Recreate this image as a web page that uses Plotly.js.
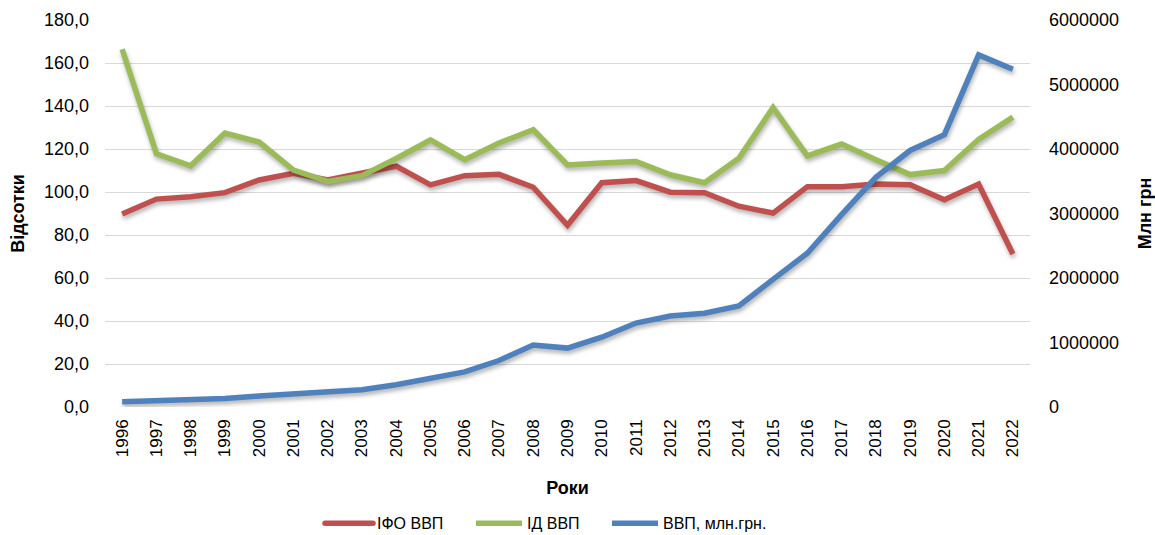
<!DOCTYPE html>
<html>
<head>
<meta charset="utf-8">
<script src="https://cdn.plot.ly/plotly-3.0.1.min.js"></script>
<style>
html,body{margin:0;padding:0;background:#fff;}
#chart{width:1155px;height:535px;}
#chart .scatterlayer .trace path.js-line{filter: drop-shadow(1px 3px 2px rgba(0,0,0,0.30));}
</style>
</head>
<body>
<div id="chart"></div>
<script>
const years = ['1996','1997','1998','1999','2000','2001','2002','2003','2004','2005','2006','2007','2008','2009','2010','2011','2012','2013','2014','2015','2016','2017','2018','2019','2020','2021','2022'];
const ifoGdp = [89.8,96.7,97.8,99.7,105.6,108.7,105.6,109.0,112.0,103.3,107.6,108.2,102.2,84.5,104.3,105.3,99.9,99.7,93.4,90.2,102.5,102.5,103.7,103.4,96.4,103.7,71.2];
const idGdp = [166.4,117.8,112.2,127.4,123.2,110.2,104.9,107.6,115.6,124.2,115.0,122.8,129.0,112.6,113.5,114.2,108.0,104.3,115.7,139.3,116.8,122.3,115.0,108.1,110.0,124.5,134.8];
const gdp = [81519,93365,102593,130442,170070,204190,225810,267344,345113,441452,544153,720731,960000,913345,1082569,1302079,1411238,1454931,1566728,1979458,2383182,2982920,3560596,3977198,4222026,5459574,5235000];

const font = 'Liberation Sans, Arial, sans-serif';
const traces = [
  {x: years, y: ifoGdp, name: 'ІФО ВВП', type: 'scatter', mode: 'lines',
   line: {color: '#C0504D', width: 5.5}, yaxis: 'y', legend: 'legend'},
  {x: years, y: idGdp, name: 'ІД ВВП', type: 'scatter', mode: 'lines',
   line: {color: '#9BBB59', width: 5.5}, yaxis: 'y', legend: 'legend2'},
  {x: years, y: gdp, name: 'ВВП, млн.грн.', type: 'scatter', mode: 'lines',
   line: {color: '#4F81BD', width: 5.5}, yaxis: 'y2', legend: 'legend3'}
];

function legendAt(px) {
  return {orientation: 'h', xref: 'container', yref: 'container', x: px / 1155, xanchor: 'left',
          y: 0.022, yanchor: 'middle', font: {family: font, size: 16, color: '#000'},
          itemwidth: 46, bgcolor: 'rgba(0,0,0,0)'};
}

const layout = {
  width: 1155, height: 535,
  margin: {l: 105, r: 125, t: 20, b: 128},
  paper_bgcolor: '#fff', plot_bgcolor: '#fff',
  separators: ', ',
  font: {family: font, size: 17, color: '#000'},
  showlegend: true,
  legend: legendAt(321),
  legend2: legendAt(471),
  legend3: legendAt(607),
  xaxis: {type: 'category', range: [-0.5, 26.5], tickangle: -90, ticks: '', showgrid: false,
          showline: false, zeroline: false, automargin: false, ticklabelstandoff: 8,
          tickfont: {family: font, size: 17},
          title: {text: '<b>Роки</b>', font: {family: font, size: 18}, standoff: 25}},
  yaxis: {range: [0, 180], dtick: 20, tickformat: '.1f', showgrid: true, gridcolor: '#D9D9D9',
          gridwidth: 1, zeroline: false, showline: false, ticks: '', automargin: false,
          ticklabelstandoff: 15,
          tickfont: {family: font, size: 18},
          title: {text: '<b>Відсотки</b>', font: {family: font, size: 18}, standoff: 14}},
  yaxis2: {overlaying: 'y', side: 'right', range: [0, 6000000], dtick: 1000000, tickformat: 'd',
           showgrid: false, zeroline: false, showline: false, ticks: '', automargin: false,
           ticklabelstandoff: 18,
           tickfont: {family: font, size: 18},
           title: {text: '<b>Млн грн</b>', font: {family: font, size: 18}, standoff: 22}}
};

Plotly.newPlot('chart', traces, layout, {staticPlot: true, displayModeBar: false}).then(function (gd) {
  // lengthen the legend line samples to match the reference
  gd.querySelectorAll('.legend .legendlines path').forEach(function (p) {
    p.setAttribute('d', 'M4,0h48');
    p.style.strokeLinecap = 'round';
  });
});
</script>
</body>
</html>
